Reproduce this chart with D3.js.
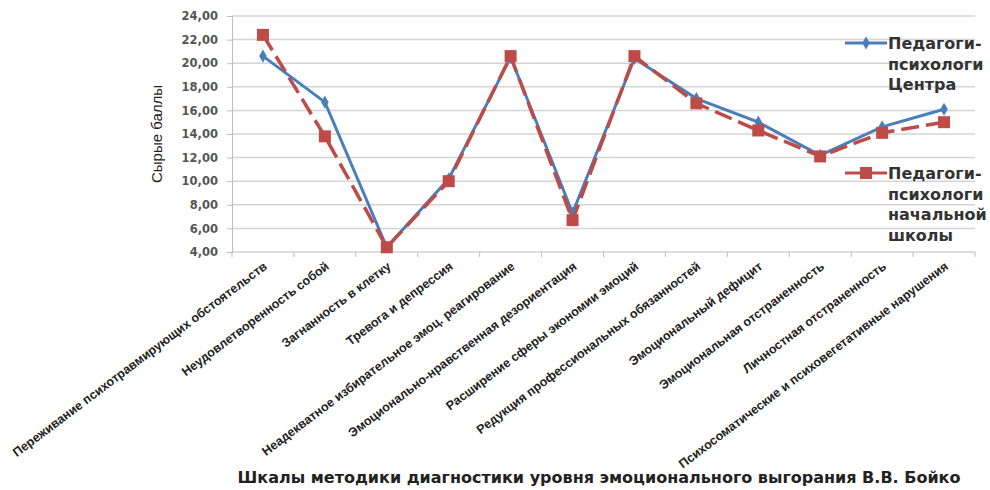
<!DOCTYPE html>
<html><head><meta charset="utf-8">
<script src="https://cdn.jsdelivr.net/npm/d3@7"></script>
<style>body{margin:0;background:#fff}svg{display:block}</style>
</head><body>
<script>
const categories = [
  "Переживание психотравмирующих обстоятельств",
  "Неудовлетворенность собой",
  "Загнанность в клетку",
  "Тревога и депрессия",
  "Неадекватное избирательное эмоц. реагирование",
  "Эмоционально-нравственная дезориентация",
  "Расширение сферы экономии эмоций",
  "Редукция профессиональных обязанностей",
  "Эмоциональный дефицит",
  "Эмоциональная отстраненность",
  "Личностная отстраненность",
  "Психосоматические и психовегетативные нарушения"
];
const seriesNames = ["Педагоги-психологи Центра", "Педагоги-психологи начальной школы"];
const centerValues = [20.6, 16.7, 4.4, 10.2, 20.5, 7.3, 20.4, 17.0, 15.0, 12.2, 14.6, 16.1];
const schoolValues = [22.4, 13.8, 4.4, 10.0, 20.6, 6.7, 20.6, 16.6, 14.3, 12.1, 14.1, 15.0];
const yTicks = [4, 6, 8, 10, 12, 14, 16, 18, 20, 22, 24];
const yTitle = "Сырые баллы";
const xTitle = "Шкалы методики диагностики уровня эмоционального выгорания В.В. Бойко";
const legendLines = [["Педагоги-", "психологи", "Центра"], ["Педагоги-", "психологи", "начальной", "школы"]];

const W = 990, H = 490;
const m = {left: 232, right: 975, top: 16, bottom: 252};
const svg = d3.select("body").append("svg").attr("width", W).attr("height", H);

const x = d3.scaleBand().domain(d3.range(categories.length)).range([m.left, m.right]);
const y = d3.scaleLinear().domain([4, 24]).range([m.bottom, m.top]);
const fmt = v => d3.format(".2f")(v).replace(".", ",");

// grid
svg.append("g").selectAll("line").data(yTicks.filter(t => t > 4)).join("line")
  .attr("x1", m.left).attr("x2", m.right)
  .attr("y1", d => y(d)).attr("y2", d => y(d))
  .attr("stroke", "#d4d4d4").attr("stroke-width", 1.5);

// y axis
const ya = svg.append("g").attr("transform", `translate(${m.left},0)`)
  .call(d3.axisLeft(y).tickValues(yTicks).tickFormat(fmt).tickSize(5).tickPadding(9));
ya.select(".domain").attr("stroke", "#bdbdbd");
ya.selectAll(".tick line").attr("stroke", "#bdbdbd");
ya.selectAll("text").attr("font-family", "'DejaVu Sans', sans-serif").attr("font-size", 11.5)
  .attr("font-weight", "bold").attr("fill", "#555");

// x axis line and ticks at band boundaries
svg.append("line").attr("x1", m.left).attr("x2", m.right).attr("y1", m.bottom).attr("y2", m.bottom)
  .attr("stroke", "#bdbdbd").attr("stroke-width", 1.2);
svg.append("g").selectAll("line").data(d3.range(categories.length + 1)).join("line")
  .attr("x1", d => m.left + d * x.step()).attr("x2", d => m.left + d * x.step())
  .attr("y1", m.bottom).attr("y2", m.bottom + 5).attr("stroke", "#bdbdbd");

// x labels
svg.append("g").selectAll("text").data(categories).join("text")
  .attr("transform", (d, i) => `translate(${x(i) + x.bandwidth() / 2 + 5},${m.bottom + 16}) rotate(-37)`)
  .attr("text-anchor", "end")
  .attr("font-family", "'Liberation Sans', Arial, sans-serif").attr("font-size", 12.5)
  .attr("font-weight", "bold").attr("fill", "#222")
  .text(d => d);

// titles
svg.append("text").attr("transform", `translate(162,134) rotate(-90)`)
  .attr("text-anchor", "middle").attr("font-family", "'Liberation Sans Narrow', 'Liberation Sans', sans-serif")
  .attr("font-size", 15).attr("fill", "#222").text(yTitle);
svg.append("text").attr("x", 599).attr("y", 483).attr("text-anchor", "middle")
  .attr("font-family", "'DejaVu Sans', sans-serif").attr("font-weight", "bold")
  .attr("font-size", 16).attr("fill", "#222").text(xTitle);

const cx = i => x(i) + x.bandwidth() / 2;
const line = d3.line().x((d, i) => cx(i)).y(d => y(d));

// center series (blue)
svg.append("path").datum(centerValues).attr("d", line).attr("fill", "none")
  .attr("stroke", "#4a7ebb").attr("stroke-width", 3);
svg.append("g").selectAll("path").data(centerValues).join("path")
  .attr("d", d3.symbol(d3.symbolDiamond, 50))
  .attr("transform", (d, i) => `translate(${cx(i)},${y(d)})`).attr("fill", "#4a7ebb");

// school series (red dashed)
svg.append("path").datum(schoolValues).attr("d", line).attr("fill", "none")
  .attr("stroke", "#be4b48").attr("stroke-width", 3.5).attr("stroke-dasharray", "18,7");
svg.append("g").selectAll("rect").data(schoolValues).join("rect")
  .attr("x", (d, i) => cx(i) - 6).attr("y", d => y(d) - 6).attr("width", 12).attr("height", 12)
  .attr("fill", "#be4b48");

// legend
const lg = [{c: "#4a7ebb", y0: 43, sym: "d"}, {c: "#be4b48", y0: 173, sym: "s"}];
lg.forEach((L, k) => {
  const g = svg.append("g");
  g.append("line").attr("x1", 845).attr("x2", 887).attr("y1", L.y0).attr("y2", L.y0)
    .attr("stroke", L.c).attr("stroke-width", 3);
  if (L.sym === "d") g.append("path").attr("d", d3.symbol(d3.symbolDiamond, 50)).attr("transform", `translate(866,${L.y0})`).attr("fill", L.c);
  else g.append("rect").attr("x", 860).attr("y", L.y0 - 6).attr("width", 12).attr("height", 12).attr("fill", L.c);
  legendLines[k].forEach((t, j) => {
    g.append("text").attr("x", 888).attr("y", L.y0 + 6 + j * 20.5)
      .attr("font-family", "'DejaVu Sans', sans-serif").attr("font-weight", "bold")
      .attr("font-size", 16).attr("fill", "#333").text(t);
  });
});
</script>
</body></html>
